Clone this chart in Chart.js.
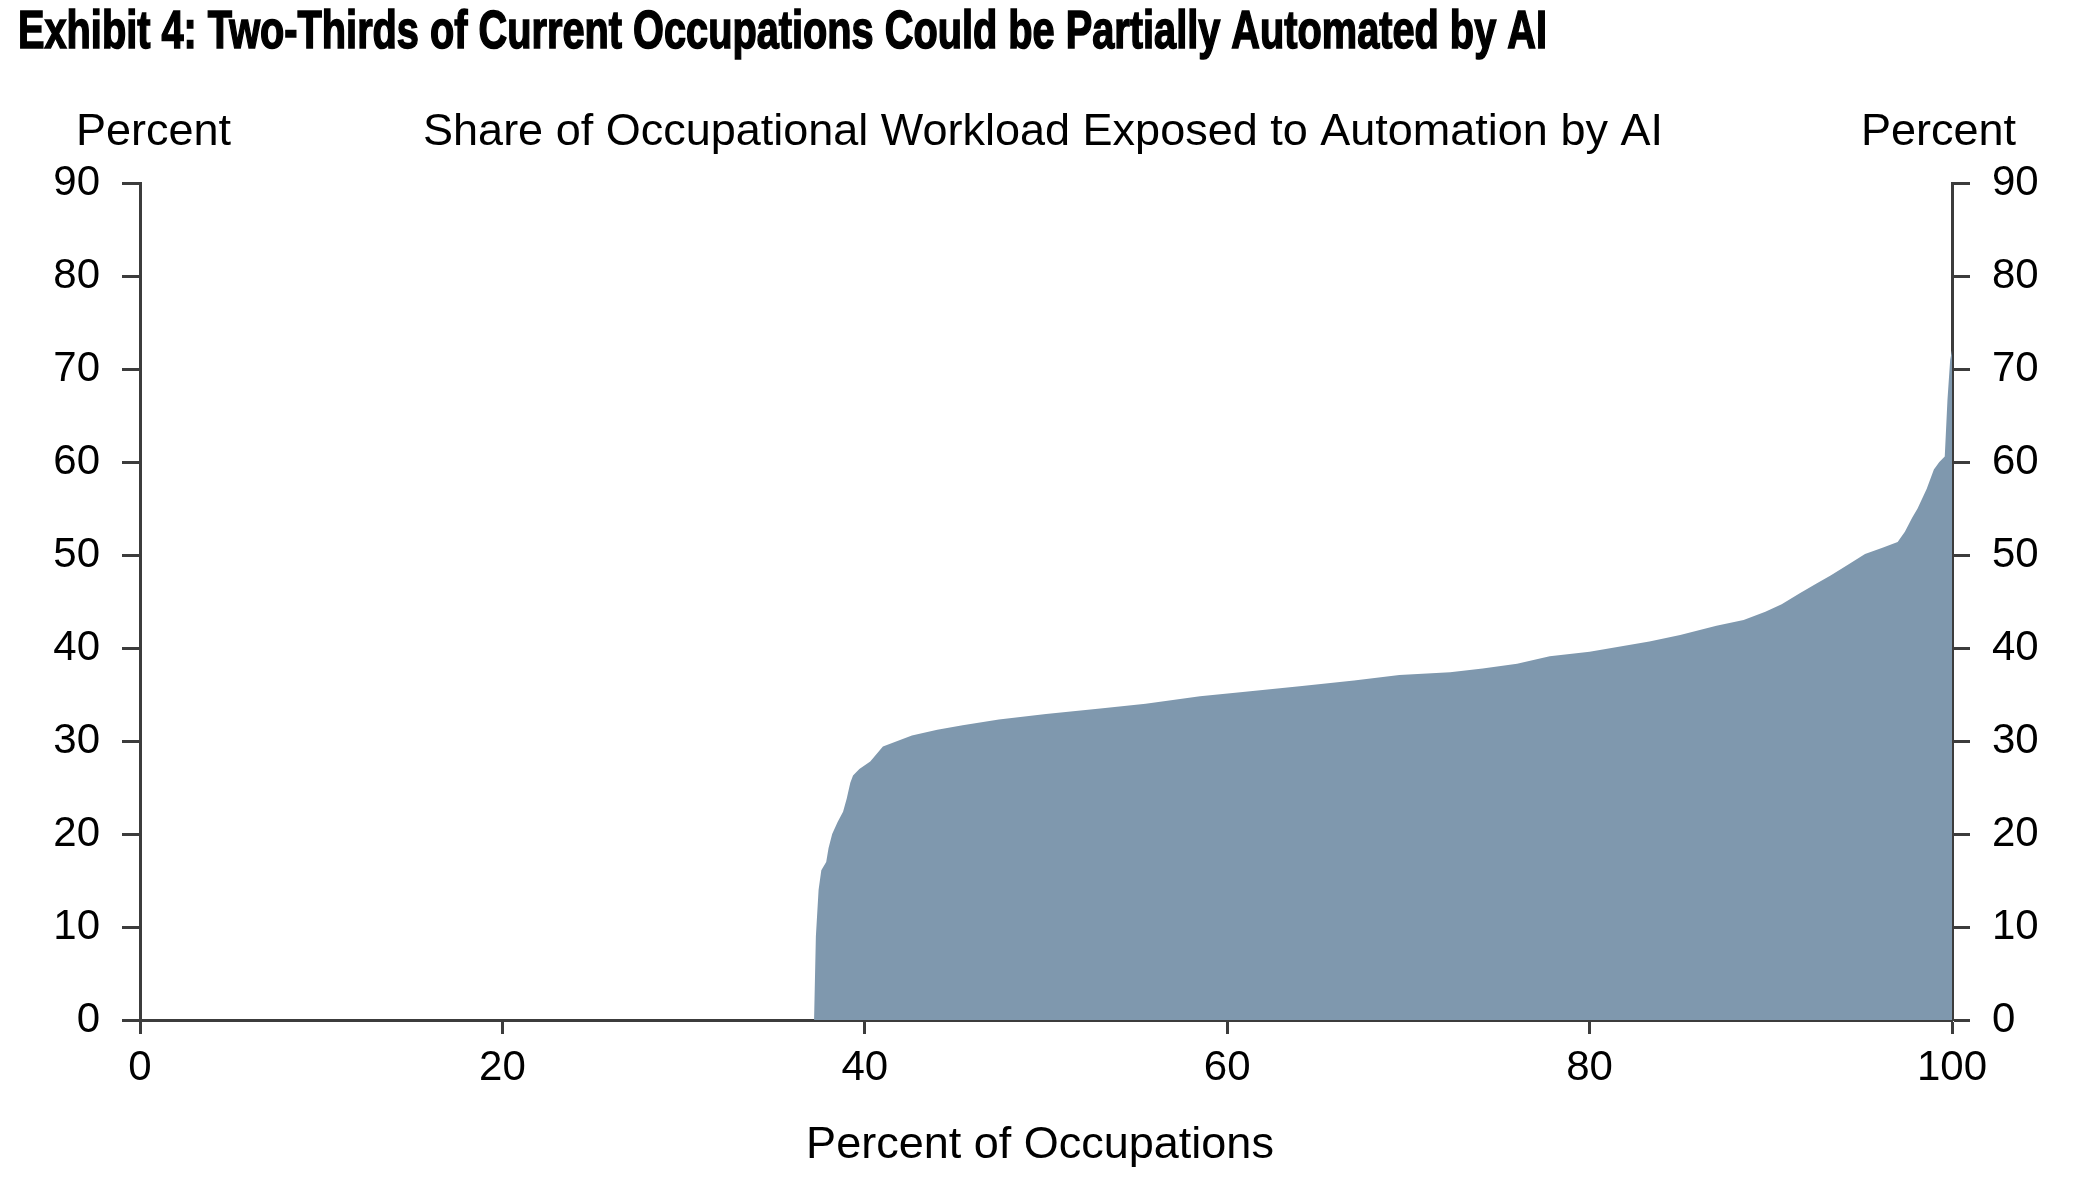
<!DOCTYPE html>
<html>
<head>
<meta charset="utf-8">
<script src="https://cdn.jsdelivr.net/npm/chart.js@4"></script>
<style>
  html, body { margin: 0; padding: 0; background: #fff; }
  #wrap { width: 2097px; height: 1200px; }
</style>
</head>
<body>
<div id="wrap"><canvas id="exposure-chart"></canvas></div>
<script>
// share of occupations (x, percent) and workload exposed to AI (y, percent)
const occupationPct = [0, 37.2, 37.3, 37.45, 37.6, 37.87, 38.0, 38.2, 38.5, 38.8, 39.0, 39.2, 39.35, 39.7, 40.3, 41.0,
  41.8, 42.6, 44.0, 45.4, 47.4, 50.0, 53.0, 55.5, 58.5, 61.0, 64.0, 67.0, 69.5, 72.3, 74.1, 76.0, 77.8, 80.0, 83.3,
  85.0, 87.0, 88.5, 89.7, 90.6, 91.6, 92.5, 93.3, 94.3, 95.2, 96.2, 97.0, 97.4, 97.8, 98.1, 98.6, 99.0, 99.3, 99.6,
  99.75, 99.9, 100];
const workloadPct = [0, 0, 9, 14, 16.1, 17.0, 18.5, 20.0, 21.3, 22.4, 23.8, 25.5, 26.3, 27.0, 27.8, 29.4,
  30.0, 30.6, 31.2, 31.7, 32.3, 32.9, 33.5, 34.0, 34.8, 35.3, 35.9, 36.5, 37.1, 37.4, 37.8, 38.3, 39.1, 39.6, 40.7,
  41.4, 42.4, 43.0, 43.9, 44.7, 45.9, 46.9, 47.8, 49.0, 50.1, 50.8, 51.4, 52.5, 54.0, 55.0, 57.1, 59.2, 60.0, 60.6,
  66.7, 71, 72];

const titleText = 'Exhibit 4: Two-Thirds of Current Occupations Could be Partially Automated by AI';
const subTitle = 'Share of Occupational Workload Exposed to Automation by AI';
const yUnit = 'Percent';
const xTitle = 'Percent of Occupations';

const fillColor = 'rgb(127, 152, 174)';
const axisColor = '#3c3c3c';
const baseFont = '"Liberation Sans", Arial, sans-serif';

const points = occupationPct.map((x, i) => ({ x: x, y: workloadPct[i] }));

// titles and axis captions drawn straight onto the canvas
const captions = {
  id: 'captions',
  afterDraw(chart) {
    const ctx = chart.ctx;
    const area = chart.chartArea;
    ctx.save();
    ctx.fillStyle = '#000';
    ctx.textBaseline = 'alphabetic';

    // condensed bold headline: squeeze a bold face to the headline width
    ctx.font = 'bold 53px ' + baseFont;
    let w = ctx.measureText(titleText).width;
    ctx.save();
    ctx.translate(18, 48);
    ctx.scale(1529 / w, 1);
    ctx.lineWidth = 1.6;
    ctx.strokeStyle = '#000';
    ctx.fillText(titleText, 0, 0);
    ctx.strokeText(titleText, 0, 0);
    ctx.restore();

    ctx.font = '45px ' + baseFont;
    ctx.textAlign = 'left';
    ctx.fillText(yUnit, 76, 145);
    ctx.textAlign = 'right';
    ctx.fillText(yUnit, 2016, 145);
    ctx.textAlign = 'center';
    ctx.fillText(subTitle, 1043, 145);
    ctx.fillText(xTitle, (area.left + area.right) / 2 - 6, 1158);
    ctx.restore();
  }
};

const ctx = document.getElementById('exposure-chart').getContext('2d');

const tickFont = { family: baseFont, size: 42 };

const chart = new Chart(ctx, {
  type: 'line',
  data: {
    datasets: [{
      data: points,
      fill: 'origin',
      backgroundColor: fillColor,
      borderColor: fillColor,
      borderWidth: 0,
      pointRadius: 0,
      tension: 0,
      yAxisID: 'y'
    }]
  },
  options: {
    responsive: true,
    maintainAspectRatio: false,
    animation: false,
    layout: {
      padding: { top: 183, left: 0, right: 0, bottom: 0 }
    },
    plugins: {
      legend: { display: false },
      title: { display: false },
      tooltip: { enabled: false }
    },
    scales: {
      x: {
        type: 'linear',
        min: 0,
        max: 100,
        ticks: { stepSize: 20, color: '#000', font: tickFont, padding: 9, maxRotation: 0 },
        grid: { drawOnChartArea: false, tickLength: 14, tickColor: axisColor, tickWidth: 3 },
        border: { color: axisColor, width: 3 },
        afterFit(scale) { scale.height = 180; }
      },
      y: {
        position: 'left',
        min: 0,
        max: 90,
        ticks: { stepSize: 10, color: '#000', font: tickFont, padding: 22 },
        grid: { drawOnChartArea: false, tickLength: 18, tickColor: axisColor, tickWidth: 3 },
        border: { color: axisColor, width: 3 },
        afterFit(scale) { scale.width = 140; }
      },
      y2: {
        position: 'right',
        min: 0,
        max: 90,
        ticks: { stepSize: 10, color: '#000', font: tickFont, padding: 22 },
        grid: { drawOnChartArea: false, tickLength: 18, tickColor: axisColor, tickWidth: 3 },
        border: { color: axisColor, width: 3 },
        afterFit(scale) { scale.width = 145; }
      }
    }
  },
  plugins: [captions]
});
</script>
</body>
</html>
